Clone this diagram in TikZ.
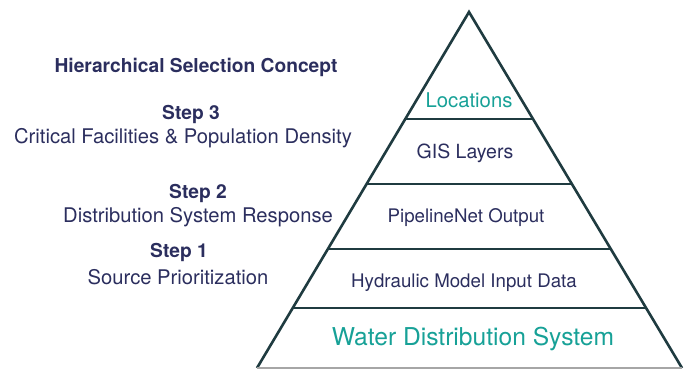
\documentclass[tikz,border=0pt]{standalone}
\usepackage{fontspec}
\setmainfont{TeX Gyre Heros}
\usetikzlibrary{calc}
\definecolor{navy}{HTML}{2B2E5E}
\definecolor{teal}{HTML}{17A197}
\definecolor{edge}{HTML}{1F3B40}
\tikzset{
    pyramid side/.style={edge, line width=2.6pt, line join=miter},
    level line/.style={edge, line width=1.2pt},
    step head/.style={navy, font=\bfseries\fontsize{19.2}{22}\selectfont},
    step text/.style={navy, font=\fontsize{20.2}{23}\selectfont},
    level label/.style={navy, font=\fontsize{18.7}{22}\selectfont},
    key label/.style={teal, font=\fontsize{20.3}{23}\selectfont}
}
\begin{document}
\begin{tikzpicture}[x=1pt,y=-1pt]
    \useasboundingbox (0,0) rectangle (684,368);
    % pyramid
    \coordinate (apex) at (469,12);
    \coordinate (bl) at (257,368);
    \coordinate (br) at (682,368);
    \draw[pyramid side] (bl) -- (apex) -- (br);
    \draw[gray!70, line width=1.5pt] (bl) -- (br);
    \foreach \t [count=\i] in {0.3006,0.4831,0.6657,0.8315}{
        \coordinate (l\i) at ($(apex)!\t!(bl)$);
        \coordinate (r\i) at ($(apex)!\t!(br)$);
        \draw[level line] (l\i) -- (r\i);
    }
    % levels
    \node[key label] (locations) at (469,100) {Locations};
    \node[level label, font=\fontsize{19.5}{22}\selectfont] (gis) at (465,153) {GIS Layers};
    \node[level label] (pipelinenet) at (466,218) {PipelineNet Output};
    \node[level label] (hydraulic) at (464,283) {Hydraulic Model Input Data};
    \node[key label, font=\fontsize{24.6}{28}\selectfont] (wds) at (473,339) {Water Distribution System};
    % steps
    \node[step head] (concept) at (196,67) {Hierarchical Selection Concept};
    \node[step head] (step3) at (191,114) {Step 3};
    \node[step text] (step3txt) at (183,138) {Critical Facilities \& Population Density};
    \node[step head] (step2) at (198,193) {Step 2};
    \node[step text] (step2txt) at (198,217) {Distribution System Response};
    \node[step head] (step1) at (179,252) {Step 1};
    \node[step text] (step1txt) at (178,277) {Source Prioritization};
\end{tikzpicture}
\end{document}
